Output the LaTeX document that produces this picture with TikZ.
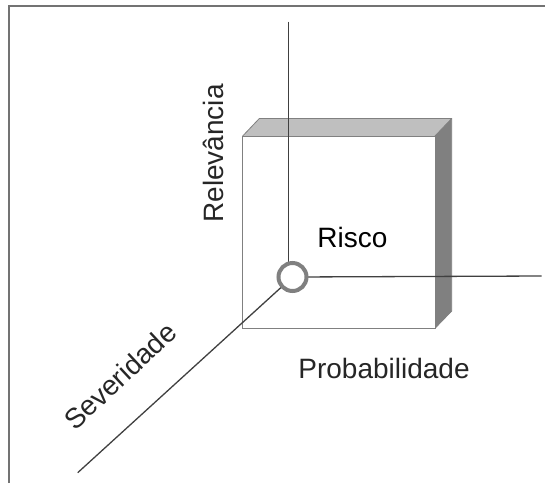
\documentclass[tikz,border=0pt]{standalone}
\usepackage{fontspec}
\setmainfont{Liberation Sans}
\begin{document}
\begin{tikzpicture}[x=1pt,y=-1pt,
  frameline/.style={draw=black!55,line width=1.4pt},
  axisline/.style={draw=black!75,line width=1.3pt},
  edgeline/.style={draw=black!50,line width=0.8pt},
  lbl/.style={font=\fontsize{28}{30}\selectfont,text=black!85,inner sep=0pt}]
\useasboundingbox (0,0) rectangle (545,483);
% frame
\draw[frameline] (9,483) -- (9,6) -- (545,6);
% box
\fill[black!25] (242.7,136) -- (259.3,118.5) -- (451.7,118.5) -- (435,136) -- cycle;
\fill[black!50] (435,136) -- (451.7,118.5) -- (451.7,311) -- (435,328.3) -- cycle;
\draw[edgeline] (242.7,136) -- (259.3,118.5) -- (451.7,118.5) -- (451.7,311) -- (435,328.3);
\draw[edgeline] (451.7,118.5) -- (435,136);
\draw[edgeline,fill=white] (242.7,136) rectangle (435,328.3);
% axes
\node[circle,minimum size=28pt,inner sep=0pt] (o) at (292.5,277) {};
\coordinate (vtop) at (288.3,21.7);
\coordinate (hend) at (541.7,276);
\coordinate (dend) at (77.7,472.7);
\draw[axisline] (vtop) -- (vtop |- o.center);
\draw[axisline] (o.center) -- (hend);
\draw[axisline] (dend) -- (o.center);
\node[circle,draw=black!50,fill=white,line width=4pt,minimum size=28pt,inner sep=0pt] at (o) {};
% labels
\node[lbl,text=black,anchor=base] (risco) at (352.5,247) {Risco};
\node[lbl,anchor=base] (prob) at (384,378) {Probabilidade};
\node[lbl,anchor=base,rotate=90] (rel) at (223.5,153.5) {Relevância};
\node[lbl,anchor=center,rotate=43] (sev) at (120,376) {Severidade};
\end{tikzpicture}
\end{document}
